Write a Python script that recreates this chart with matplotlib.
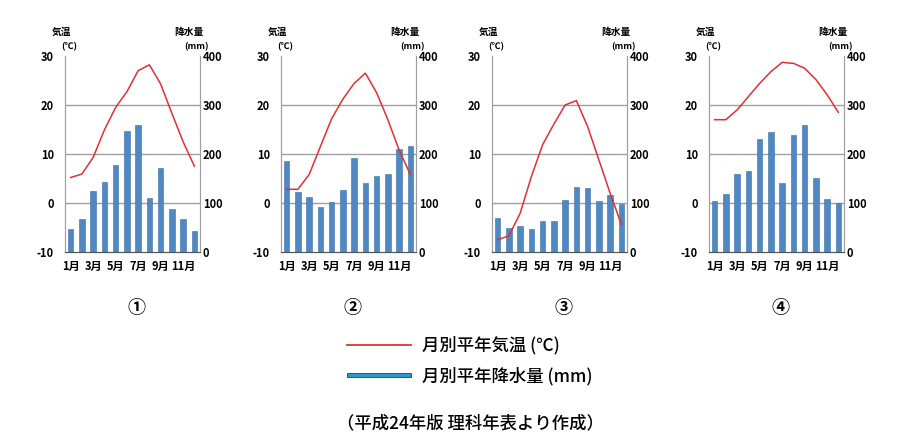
import numpy as np
import matplotlib.pyplot as plt

plt.rcParams['font.family'] = ['Noto Sans CJK JP', 'DejaVu Sans']
plt.rcParams['axes.unicode_minus'] = False

# Monthly data
months = np.arange(1, 13)
temp_1 = [5.2, 5.9, 9.3, 14.9, 19.5, 22.7, 27.0, 28.2, 24.3, 18.3, 12.5, 7.5]
rain_1 = [46, 67, 124, 142, 178, 247, 259, 111, 171, 88, 67, 42]
temp_2 = [2.8, 2.8, 5.8, 11.5, 17.2, 21.2, 24.4, 26.5, 22.5, 17.0, 10.8, 5.8]
rain_2 = [185, 122, 112, 91, 103, 127, 192, 140, 155, 159, 211, 217]
temp_3 = [-7.5, -6.7, -2.1, 5.4, 11.9, 16.1, 20.0, 20.9, 15.6, 8.8, 2.0, -4.4]
rain_3 = [69, 50, 53, 47, 64, 63, 107, 133, 130, 104, 116, 97]
temp_4 = [17.0, 17.0, 19.0, 21.7, 24.4, 26.8, 28.7, 28.5, 27.5, 25.2, 22.1, 18.5]
rain_4 = [105, 119, 160, 166, 231, 245, 141, 239, 259, 152, 108, 101]

panel_labels = ['①', '②', '③', '④']
month_ticks = [1, 3, 5, 7, 9, 11]
month_labels = ['1月', '3月', '5月', '7月', '9月', '11月']

temps = [temp_1, temp_2, temp_3, temp_4]
rains = [rain_1, rain_2, rain_3, rain_4]

red = '#e03030'
bar_color = '#4f88c2'
grid_color = '#a0a0a0'

fig = plt.figure(figsize=(9.03, 4.44), dpi=100)

lefts = [65, 281, 492, 709]
W, H = 903, 444
for i in range(4):
    ax = fig.add_axes([lefts[i] / W, 1 - 252 / H, 135 / W, 196 / H])
    ax2 = ax.twinx()

    # bars on right axis, kept behind the temperature line
    for v in [100, 200, 300]:
        ax2.axhline(v, color=grid_color, lw=1.0, zorder=0)
    ax2.bar(months, rains[i], width=0.48, color=bar_color,
            edgecolor='#3a6fa5', linewidth=0.4, zorder=2)
    ax2.set_ylim(0, 400)
    ax2.set_yticks([0, 100, 200, 300, 400])
    ax2.tick_params(axis='y', length=0, labelsize=8, pad=2)

    ax.set_zorder(ax2.get_zorder() + 1)
    ax.patch.set_visible(False)
    ax.plot(months, temps[i], color=red, lw=1.1, zorder=3)
    ax.set_ylim(-10, 30)
    ax.set_xlim(0.5, 12.5)
    ax.set_yticks([-10, 0, 10, 20, 30])
    ax.set_xticks(month_ticks)
    ax.set_xticklabels(month_labels)
    ax.tick_params(axis='y', length=0, labelsize=8, pad=8)
    ax.tick_params(axis='x', length=0, labelsize=8, pad=6)

    for a in (ax, ax2):
        a.spines['top'].set_visible(False)
        a.spines['left'].set_color(grid_color)
        a.spines['right'].set_color(grid_color)
        a.spines['bottom'].set_color('#555555')
        for lbl in a.get_yticklabels() + a.get_xticklabels():
            lbl.set_fontweight('bold')

    x0 = lefts[i]
    fig.text((x0 - 3) / W, 1 - 32 / H, '気温', fontsize=7, ha='center', va='center', fontweight='bold')
    fig.text((x0 + 4) / W, 1 - 47 / H, '(℃)', fontsize=6.5, ha='center', va='center', fontweight='bold')
    fig.text((x0 + 124) / W, 1 - 32 / H, '降水量', fontsize=7, ha='center', va='center', fontweight='bold')
    fig.text((x0 + 132) / W, 1 - 47 / H, '(mm)', fontsize=6.5, ha='center', va='center', fontweight='bold')
    fig.text((x0 + 72) / W, 1 - 307 / H, panel_labels[i], fontsize=13,
             ha='center', va='center', fontweight='bold')

# legend drawn by hand at the bottom centre
fig.add_artist(plt.Line2D([347 / W, 411 / W], [1 - 345 / H, 1 - 345 / H],
                          color=red, lw=1.3, transform=fig.transFigure))
fig.add_artist(plt.Rectangle((347 / W, 1 - 377 / H), 64 / W, 4 / H,
                             facecolor='#2f97cf', edgecolor='#1f3f6a', lw=0.6,
                             transform=fig.transFigure))
fig.text(422 / W, 1 - 345 / H, '月別平年気温 (℃)', fontsize=12.5, ha='left', va='center',
         fontweight='medium')
fig.text(422 / W, 1 - 376 / H, '月別平年降水量 (mm)', fontsize=12.5, ha='left', va='center',
         fontweight='medium')
fig.text(470 / W, 1 - 423 / H, '（平成24年版 理科年表より作成）', fontsize=12.5,
         ha='center', va='center', fontweight='medium')

fig.savefig('out.png', dpi=100)
